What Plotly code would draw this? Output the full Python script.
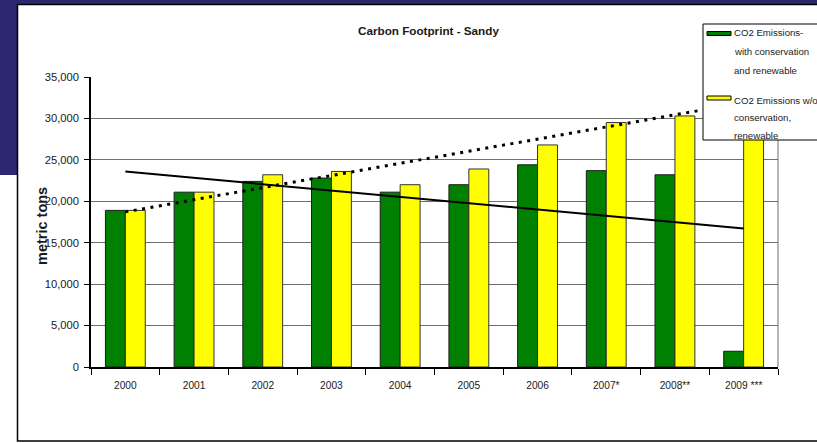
import numpy as np
import plotly.graph_objects as go

categories = ["2000", "2001", "2002", "2003", "2004", "2005", "2006", "2007*", "2008**", "2009 ***"]
with_conservation = [18900, 21100, 22400, 22800, 21100, 22000, 24400, 23700, 23200, 1900]
without_conservation = [18900, 21100, 23200, 23600, 22000, 23900, 26800, 29500, 30300, 33800]
y_ticks = [0, 5000, 10000, 15000, 20000, 25000, 30000, 35000]

# linear trendlines computed from the data (as the spreadsheet does)
idx = np.arange(len(categories))
g_fit = np.polyval(np.polyfit(idx, with_conservation, 1), idx)
y_fit = np.polyval(np.polyfit(idx, without_conservation, 1), idx)

W, H = 817, 443
ML, MR, MT, MB = 91, 39, 77, 76
PW, PH = W - ML - MR, H - MT - MB

def px(x):
    return (x - ML) / PW

def py(y):
    return (H - MB - y) / PH

FONT = "Liberation Sans, Arial, sans-serif"
TXT = "#1a1a1a"

fig = go.Figure()
fig.add_bar(x=categories, y=with_conservation, name="with",
            marker=dict(color="#008000", line=dict(color="#1a1a1a", width=1)))
fig.add_bar(x=categories, y=without_conservation, name="without",
            marker=dict(color="#ffff00", line=dict(color="#333333", width=1)))
fig.add_scatter(x=categories, y=g_fit, mode="lines",
                line=dict(color="black", width=2))
fig.add_scatter(x=categories, y=y_fit, mode="lines",
                line=dict(color="black", width=3, dash="3px,5.5px"))

shapes = [
    dict(type="rect", xref="paper", yref="paper", x0=px(-5), x1=px(W + 5), y0=py(-5), y1=py(4.5),
         fillcolor="#2b2870", line_width=0, layer="below"),
    dict(type="rect", xref="paper", yref="paper", x0=px(-5), x1=px(17), y0=py(-5), y1=py(175),
         fillcolor="#2b2870", line_width=0, layer="below"),
    dict(type="rect", xref="paper", yref="paper", x0=px(17.5), x1=px(W + 20), y0=py(4.5), y1=py(441),
         fillcolor="white", line=dict(color="black", width=1.5), layer="below"),
    dict(type="line", xref="paper", yref="paper", x0=1, x1=1, y0=0, y1=1,
         line=dict(color="#888888", width=1.2), layer="below"),
    # legend box
    dict(type="rect", xref="paper", yref="paper", x0=px(703), x1=px(W + 20), y0=py(140), y1=py(24),
         fillcolor="white", line=dict(color="black", width=1), layer="above"),
    dict(type="rect", xref="paper", yref="paper", x0=px(707), x1=px(731), y0=py(35.5), y1=py(31.5),
         fillcolor="#008000", line=dict(color="black", width=1), layer="above"),
    dict(type="rect", xref="paper", yref="paper", x0=px(707), x1=px(731), y0=py(100), y1=py(96),
         fillcolor="#ffff00", line=dict(color="black", width=1), layer="above"),
]

annotations = [
    dict(text="<b>Carbon Footprint - Sandy</b>", x=px(428), y=py(30), xref="paper", yref="paper",
         showarrow=False, font=dict(family=FONT, size=11.7, color=TXT), xanchor="center", yanchor="middle"),
    dict(text="<b>metric tons</b>", x=px(42), y=py(226), xref="paper", yref="paper",
         showarrow=False, textangle=-90, font=dict(family=FONT, size=14.5, color=TXT),
         xanchor="center", yanchor="middle"),
]
legend_lines = [
    ("CO2 Emissions-", 33), ("with conservation", 52), ("and renewable", 70),
    ("CO2 Emissions w/o", 100), ("conservation,", 118), ("renewable", 135),
]
for t, yy in legend_lines:
    annotations.append(dict(text=t, x=px(733), y=py(yy), xref="paper", yref="paper", showarrow=False,
                            borderpad=0, font=dict(family=FONT, size=9.6, color=TXT),
                            xanchor="left", yanchor="middle"))

fig.update_layout(
    width=W, height=H,
    margin=dict(l=ML, r=MR, t=MT, b=MB),
    paper_bgcolor="white", plot_bgcolor="rgba(0,0,0,0)",
    barmode="group", bargap=0.42, bargroupgap=0,
    showlegend=False,
    shapes=shapes, annotations=annotations,
    font=dict(family=FONT, size=11, color=TXT),
)
fig.update_xaxes(type="category", showline=True, linecolor="black", linewidth=1.5,
                 ticks="outside", tickson="boundaries", ticklen=6, tickcolor="black", tickwidth=1.2,
                 showgrid=False, tickfont=dict(size=10.2), ticklabelstandoff=8)
fig.update_yaxes(range=[0, 35000], tickvals=y_ticks, tickformat=",", showline=True,
                 linecolor="black", linewidth=1.5, ticks="outside", ticklen=5, tickcolor="black",
                 showgrid=True, gridcolor="#6e6e6e", gridwidth=1.4, zeroline=False,
                 tickfont=dict(size=11.2), ticklabelstandoff=3)

fig.write_html("out.html", config={"displayModeBar": False},
               post_script="document.body.style.margin='0';")
